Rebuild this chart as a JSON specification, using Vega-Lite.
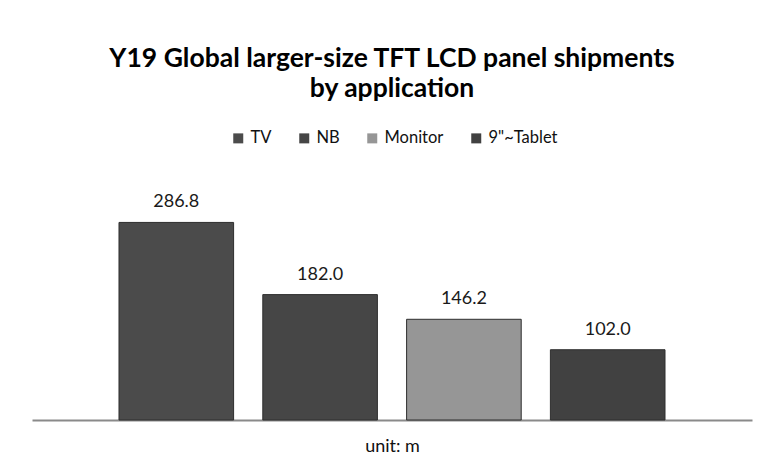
{
  "$schema": "https://vega.github.io/schema/vega-lite/v6.json",
  "autosize": "none",
  "width": 720,
  "height": 248,
  "padding": {"left": 32, "top": 172, "right": 8, "bottom": 46},
  "background": "white",
  "title": {
    "text": ["Y19 Global larger-size TFT LCD panel shipments", "by application"],
    "font": "Lato",
    "fontSize": 26.5,
    "fontWeight": "bold",
    "lineHeight": 30,
    "color": "#000000",
    "anchor": "middle",
    "offset": 28
  },
  "data": {
    "values": [
      {"application": "TV", "shipments": 286.8},
      {"application": "NB", "shipments": 182.0},
      {"application": "Monitor", "shipments": 146.2},
      {"application": "9\"~Tablet", "shipments": 102.0}
    ]
  },
  "encoding": {
    "x": {
      "field": "application",
      "type": "nominal",
      "sort": ["TV", "NB", "Monitor", "9\"~Tablet"],
      "scale": {"paddingInner": 0.203, "paddingOuter": 0.605},
      "axis": {
        "title": "unit: m",
        "labels": false,
        "ticks": false,
        "domainColor": "#8a8a8a",
        "domainWidth": 2,
        "titleFont": "Lato",
        "titleFontSize": 18,
        "titleFontWeight": "normal",
        "titleColor": "#111111",
        "titlePadding": 17
      }
    },
    "y": {
      "field": "shipments",
      "type": "quantitative",
      "scale": {"domain": [0, 360]},
      "axis": null
    }
  },
  "layer": [
    {
      "mark": {"type": "bar", "stroke": "#2e2e2e", "strokeWidth": 1},
      "encoding": {
        "color": {
          "field": "application",
          "type": "nominal",
          "sort": ["TV", "NB", "Monitor", "9\"~Tablet"],
          "scale": {
            "domain": ["TV", "NB", "Monitor", "9\"~Tablet"],
            "range": ["#4b4b4b", "#464646", "#969696", "#414141"]
          },
          "legend": {
            "title": null,
            "orient": "none",
            "direction": "horizontal",
            "legendX": 198,
            "legendY": -42,
            "symbolType": "square",
            "symbolSize": 100,
            "symbolStrokeWidth": 0,
            "labelFont": "Lato",
            "labelFontSize": 16.5,
            "labelColor": "#111111",
            "columnPadding": 24,
            "labelOffset": 4
          }
        }
      }
    },
    {
      "mark": {"type": "text", "dy": -20, "font": "Lato", "fontSize": 18, "color": "#1a1a1a"},
      "encoding": {
        "text": {"field": "shipments", "type": "quantitative", "format": ".1f"}
      }
    }
  ],
  "config": {"view": {"stroke": null}}
}
